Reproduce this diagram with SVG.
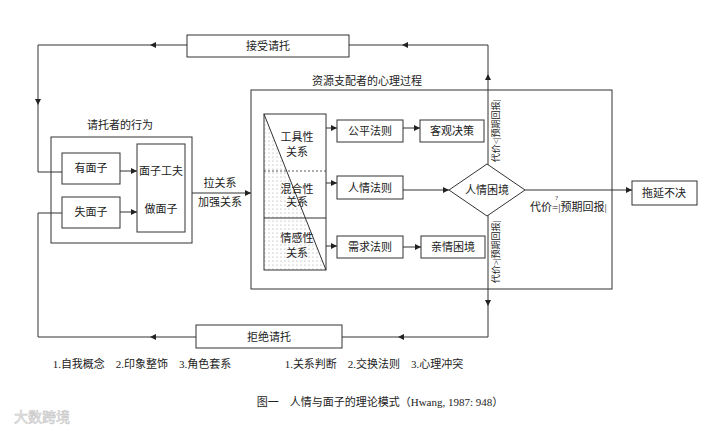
<svg xmlns="http://www.w3.org/2000/svg" width="720" height="436" viewBox="0 0 720 436">
<style>
.bx{fill:#fff;stroke:#333;stroke-width:1}
.fr{fill:none;stroke:#333;stroke-width:1}
.ln{fill:none;stroke:#333;stroke-width:1}
.t{font-family:"Liberation Serif","Noto Sans CJK SC",serif;font-size:11px;fill:#222;text-anchor:middle}
.s{font-family:"Liberation Serif","Noto Sans CJK SC",serif;font-size:9px;fill:#222;text-anchor:middle}
.ah{fill:#222}
</style>
<defs>
<pattern id="dots" width="4" height="4" patternUnits="userSpaceOnUse">
<rect width="4" height="4" fill="#fff"/>
<circle cx="1" cy="1" r="0.5" fill="#888"/>
</pattern>
<path id="ah" d="M0,0 L-6,-3 L-6,3 Z"/>
</defs>
<rect width="720" height="436" fill="#fff"/>

<g id="connectors">
<path class="ln" d="M488,165 L488,45 L38,45 L38,172 L62,172"/>
<path class="ln" d="M488,215 L488,337 L38,337 L38,213 L62,213"/>
<path class="ln" d="M120,171 L137,171"/>
<path class="ln" d="M120,212 L137,212"/>
<path class="ln" d="M192,193 L251,193"/>
<path class="ln" d="M326,128 L337,128"/>
<path class="ln" d="M326,183 L337,183"/>
<path class="ln" d="M326,246 L337,246"/>
<path class="ln" d="M403,128 L420,128"/>
<path class="ln" d="M403,247 L421,247"/>
<path class="ln" d="M403,190 L449,190"/>
<path class="ln" d="M525,190 L632,190"/>
<g class="ah">
<use href="#ah" transform="translate(488,74) rotate(-90)"/>
<use href="#ah" transform="translate(402,45) rotate(180)"/>
<use href="#ah" transform="translate(150,45) rotate(180)"/>
<use href="#ah" transform="translate(38,105) rotate(90)"/>
<use href="#ah" transform="translate(488,306) rotate(90)"/>
<use href="#ah" transform="translate(398,337) rotate(180)"/>
<use href="#ah" transform="translate(150,337) rotate(180)"/>
<use href="#ah" transform="translate(137,171)"/>
<use href="#ah" transform="translate(137,212)"/>
<use href="#ah" transform="translate(251,193)"/>
<use href="#ah" transform="translate(337,128)"/>
<use href="#ah" transform="translate(337,183)"/>
<use href="#ah" transform="translate(337,246)"/>
<use href="#ah" transform="translate(420,128)"/>
<use href="#ah" transform="translate(421,247)"/>
<use href="#ah" transform="translate(449,190)"/>
<use href="#ah" transform="translate(632,190)"/>
</g>
<text class="t" x="220" y="187">拉关系</text>
<text class="t" x="220" y="206">加强关系</text>
<text class="s" transform="translate(499,131) rotate(-90)">代价&lt;|预期回报|</text>
<text class="s" transform="translate(499,252) rotate(-90)">代价&gt;|预期回报|</text>
<text class="t" x="530" y="211" style="text-anchor:start">代价<tspan>=</tspan>|预期回报|</text>
<text class="s" x="556.5" y="200" style="font-size:7px">?</text>
</g>

<g id="node-accept">
<rect class="bx" x="187" y="35" width="162" height="22"/>
<text class="t" x="268" y="50">接受请托</text>
</g>
<g id="node-reject">
<rect class="bx" x="196" y="325" width="146" height="23"/>
<text class="t" x="269" y="341">拒绝请托</text>
</g>

<g id="node-requester">
<rect class="fr" x="51" y="137" width="141" height="106"/>
<text class="t" x="120" y="129">请托者的行为</text>
</g>
<g id="node-youmianzi">
<rect class="bx" x="62" y="153" width="58" height="31"/>
<text class="t" x="91" y="172">有面子</text>
</g>
<g id="node-shimianzi">
<rect class="bx" x="62" y="197" width="58" height="31"/>
<text class="t" x="91" y="216">失面子</text>
</g>
<g id="node-mianzigongfu">
<rect class="bx" x="137" y="144" width="48" height="88"/>
<text class="t" x="161" y="175">面子工夫</text>
<text class="t" x="161" y="213">做面子</text>
</g>

<g id="node-allocator">
<rect class="fr" x="251" y="90" width="361" height="199"/>
<text class="t" x="367" y="85">资源支配者的心理过程</text>
</g>
<g id="node-relations">
<rect x="264" y="114" width="62" height="156" fill="#fff"/>
<polygon points="264,114 326,270 264,270" fill="url(#dots)"/>
<line x1="264" y1="114" x2="326" y2="270" stroke="#333" stroke-width="1"/>
<line x1="264" y1="171" x2="326" y2="171" stroke="#333" stroke-width="0.8" stroke-dasharray="2,2"/>
<line x1="264" y1="218" x2="326" y2="218" stroke="#333" stroke-width="1"/>
<rect class="fr" x="264" y="114" width="62" height="156"/>
<text class="t" x="297" y="141">工具性</text>
<text class="t" x="297" y="156">关系</text>
<text class="t" x="297" y="193">混合性</text>
<text class="t" x="297" y="206">关系</text>
<text class="t" x="297" y="242">情感性</text>
<text class="t" x="297" y="257">关系</text>
</g>
<g id="node-gongping">
<rect class="bx" x="337" y="120" width="66" height="22"/>
<text class="t" x="370" y="135">公平法则</text>
</g>
<g id="node-keguan">
<rect class="bx" x="420" y="120" width="64" height="22"/>
<text class="t" x="452" y="135">客观决策</text>
</g>
<g id="node-renqingfaze">
<rect class="bx" x="337" y="176" width="66" height="23"/>
<text class="t" x="370" y="192">人情法则</text>
</g>
<g id="node-xuqiu">
<rect class="bx" x="337" y="236" width="66" height="22"/>
<text class="t" x="370" y="251">需求法则</text>
</g>
<g id="node-qinqing">
<rect class="bx" x="421" y="236" width="64" height="22"/>
<text class="t" x="453" y="251">亲情困境</text>
</g>
<g id="node-dilemma">
<polygon class="bx" points="449,190 487,164 525,190 487,216"/>
<text class="t" x="487" y="194">人情困境</text>
</g>
<g id="node-delay">
<rect class="bx" x="632" y="181" width="65" height="24"/>
<text class="t" x="664" y="197">拖延不决</text>
</g>

<text class="t" x="142" y="368">1.自我概念　2.印象整饰　3.角色套系</text>
<text class="t" x="374" y="368">1.关系判断　2.交换法则　3.心理冲突</text>
<text class="t" x="380" y="406">图一　人情与面子的理论模式（Hwang, 1987: 948）</text>
<text x="14" y="422" style="font-family:'Noto Sans CJK SC',sans-serif;font-size:14px;fill:#f2f2f2;stroke:#c8c8c8;stroke-width:0.6">大数跨境</text>
</svg>
